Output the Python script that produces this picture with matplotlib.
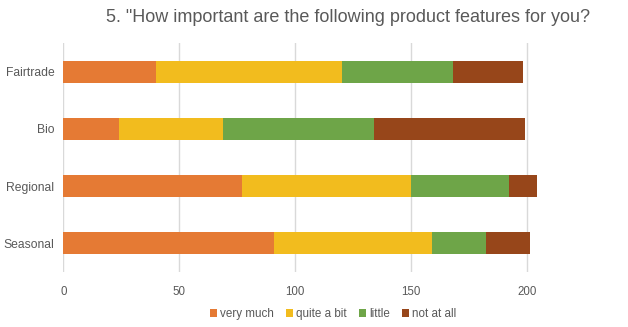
import matplotlib
matplotlib.use("Agg")
import matplotlib.pyplot as plt
import numpy as np

plt.rcParams['font.family'] = ['Liberation Sans', 'DejaVu Sans']

categories = ["Fairtrade", "Bio", "Regional", "Seasonal"]
series_names = ["very much", "quite a bit", "little", "not at all"]
very_much = [40, 24, 77, 91]
quite_a_bit = [80, 45, 73, 68]
little = [48, 65, 42, 23]
not_at_all = [30, 65, 12, 19]
colors = ["#E57A34", "#F2BC1E", "#6EA548", "#97461A"]
xticks = [0, 50, 100, 150, 200]

W, H = 628, 327
fig = plt.figure(figsize=(W / 100, H / 100), dpi=100)
ax = fig.add_axes([63.3 / W, 1 - 272 / H, (620 - 63.3) / W, (272 - 43) / H])

y = np.arange(len(categories))
left = np.zeros(len(categories))
for name, vals, c in zip(series_names, [very_much, quite_a_bit, little, not_at_all], colors):
    ax.barh(y, vals, left=left, height=0.385, color=c, label=name, zorder=3)
    left += np.array(vals)

ax.set_ylim(len(categories) - 0.5, -0.5)
ax.set_xlim(0, (620 - 63.3) / 2.32)
ax.set_yticks(y)
ax.set_yticklabels(categories, fontsize=8.7, color="#595959")
ax.set_xticks(xticks)
ax.set_xticklabels([str(v) for v in xticks], fontsize=8.3, color="#595959")
ax.tick_params(axis='both', length=0)
ax.tick_params(axis='y', pad=6.5)
ax.tick_params(axis='x', pad=10)
ax.grid(axis='x', color="#D9D9D9", linewidth=1, zorder=0)
for s in ax.spines.values():
    s.set_visible(False)

fig.text(348 / W, 1 - 18 / H, '5. "How important are the following product features for you?',
         ha='center', va='center', fontsize=13, color="#595959")

leg = fig.legend(loc='center', bbox_to_anchor=(333 / W, 1 - 314 / H), ncol=4, frameon=False,
                 fontsize=8.4, handlelength=0.65, handleheight=0.65, handletextpad=0.25,
                 columnspacing=1.0, labelcolor="#595959")

fig.savefig("out.png", dpi=100)
